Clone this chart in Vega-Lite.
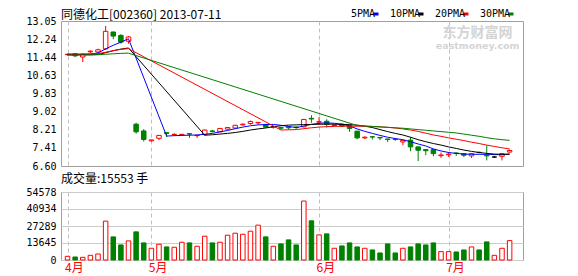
{
  "$schema": "https://vega.github.io/schema/vega-lite/v6.json",
  "padding": {"left": 25, "top": 8, "right": 0, "bottom": 0},
  "background": "white",
  "spacing": 0,
  "datasets": {
    "k": [
      {"i":1,"o":11.55,"h":11.60,"l":11.52,"c":11.57,"v":2950,"5PMA":11.57,"10PMA":11.55,"20PMA":11.58,"30PMA":11.53},
      {"i":2,"o":11.59,"h":11.62,"l":11.44,"c":11.50,"v":2420,"5PMA":11.57,"10PMA":11.55,"20PMA":11.58,"30PMA":11.53},
      {"i":3,"o":11.45,"h":11.60,"l":11.22,"c":11.58,"v":2150,"5PMA":11.56,"10PMA":11.55,"20PMA":11.58,"30PMA":11.54},
      {"i":4,"o":11.68,"h":11.74,"l":11.62,"c":11.71,"v":3760,"5PMA":11.58,"10PMA":11.55,"20PMA":11.59,"30PMA":11.54},
      {"i":5,"o":11.67,"h":11.82,"l":11.62,"c":11.77,"v":4840,"5PMA":11.63,"10PMA":11.56,"20PMA":11.60,"30PMA":11.55},
      {"i":6,"o":11.81,"h":12.83,"l":11.76,"c":12.59,"v":31190,"5PMA":11.81,"10PMA":11.64,"20PMA":11.66,"30PMA":11.57},
      {"i":7,"o":12.56,"h":12.58,"l":12.24,"c":12.38,"v":18550,"5PMA":11.97,"10PMA":11.73,"20PMA":11.73,"30PMA":11.59},
      {"i":8,"o":12.41,"h":12.46,"l":12.04,"c":12.11,"v":12100,"5PMA":12.11,"10PMA":11.80,"20PMA":11.79,"30PMA":11.61},
      {"i":9,"o":12.15,"h":12.38,"l":12.04,"c":12.34,"v":15325,"5PMA":12.26,"10PMA":11.85,"20PMA":11.82,"30PMA":11.62},
      {"i":10,"o":8.46,"h":8.52,"l":8.04,"c":8.12,"v":22585,"5PMA":null,"10PMA":null,"20PMA":null,"30PMA":null},
      {"i":11,"o":8.16,"h":8.24,"l":7.69,"c":7.78,"v":13710,"5PMA":null,"10PMA":null,"20PMA":null,"30PMA":null},
      {"i":12,"o":7.72,"h":7.77,"l":7.68,"c":7.76,"v":9410,"5PMA":null,"10PMA":null,"20PMA":null,"30PMA":null},
      {"i":13,"o":7.83,"h":7.97,"l":7.75,"c":7.96,"v":12640,"5PMA":null,"10PMA":null,"20PMA":null,"30PMA":null},
      {"i":14,"o":8.08,"h":8.09,"l":7.89,"c":8.05,"v":10485,"5PMA":7.93,"10PMA":null,"20PMA":null,"30PMA":null},
      {"i":15,"o":8.00,"h":8.05,"l":7.93,"c":8.01,"v":10215,"5PMA":7.95,"10PMA":null,"20PMA":null,"30PMA":null},
      {"i":16,"o":7.99,"h":8.02,"l":7.93,"c":8.01,"v":14250,"5PMA":7.96,"10PMA":null,"20PMA":null,"30PMA":null},
      {"i":17,"o":8.04,"h":8.05,"l":7.85,"c":8.02,"v":13710,"5PMA":7.97,"10PMA":null,"20PMA":null,"30PMA":null},
      {"i":18,"o":7.95,"h":7.98,"l":7.85,"c":7.97,"v":11020,"5PMA":7.98,"10PMA":null,"20PMA":null,"30PMA":null},
      {"i":19,"o":8.00,"h":8.22,"l":7.94,"c":8.20,"v":19090,"5PMA":8.01,"10PMA":7.97,"20PMA":null,"30PMA":null},
      {"i":20,"o":8.16,"h":8.21,"l":8.10,"c":8.13,"v":13710,"5PMA":8.05,"10PMA":7.99,"20PMA":null,"30PMA":null},
      {"i":21,"o":8.12,"h":8.28,"l":8.10,"c":8.27,"v":14250,"5PMA":8.12,"10PMA":8.02,"20PMA":null,"30PMA":null},
      {"i":22,"o":8.24,"h":8.33,"l":8.20,"c":8.31,"v":19895,"5PMA":8.18,"10PMA":8.05,"20PMA":null,"30PMA":null},
      {"i":23,"o":8.29,"h":8.43,"l":8.27,"c":8.41,"v":21510,"5PMA":8.26,"10PMA":8.09,"20PMA":null,"30PMA":null},
      {"i":24,"o":8.43,"h":8.50,"l":8.39,"c":8.46,"v":20700,"5PMA":8.33,"10PMA":8.14,"20PMA":null,"30PMA":null},
      {"i":25,"o":8.49,"h":8.62,"l":8.44,"c":8.58,"v":23120,"5PMA":8.39,"10PMA":8.20,"20PMA":null,"30PMA":null},
      {"i":26,"o":8.52,"h":8.55,"l":8.43,"c":8.54,"v":27960,"5PMA":8.43,"10PMA":8.25,"20PMA":null,"30PMA":null},
      {"i":27,"o":8.45,"h":8.47,"l":8.32,"c":8.33,"v":18550,"5PMA":8.44,"10PMA":8.29,"20PMA":null,"30PMA":null},
      {"i":28,"o":8.32,"h":8.37,"l":8.26,"c":8.35,"v":11020,"5PMA":8.45,"10PMA":8.35,"20PMA":null,"30PMA":null},
      {"i":29,"o":8.31,"h":8.33,"l":8.22,"c":8.28,"v":12905,"5PMA":8.41,"10PMA":8.39,"20PMA":8.20,"30PMA":null},
      {"i":30,"o":8.34,"h":8.36,"l":8.22,"c":8.30,"v":16130,"5PMA":8.36,"10PMA":8.42,"20PMA":8.21,"30PMA":null},
      {"i":31,"o":8.33,"h":8.37,"l":8.25,"c":8.31,"v":12100,"5PMA":8.31,"10PMA":8.43,"20PMA":8.22,"30PMA":null},
      {"i":32,"o":8.34,"h":8.70,"l":8.32,"c":8.67,"v":47320,"5PMA":8.38,"10PMA":8.44,"20PMA":8.26,"30PMA":null},
      {"i":33,"o":8.72,"h":8.86,"l":8.52,"c":8.69,"v":31460,"5PMA":8.45,"10PMA":8.45,"20PMA":8.30,"30PMA":null},
      {"i":34,"o":8.55,"h":8.78,"l":8.42,"c":8.57,"v":20165,"5PMA":8.50,"10PMA":8.46,"20PMA":8.33,"30PMA":null},
      {"i":35,"o":8.59,"h":8.68,"l":8.31,"c":8.46,"v":20970,"5PMA":8.52,"10PMA":8.46,"20PMA":8.35,"30PMA":null},
      {"i":36,"o":8.40,"h":8.44,"l":8.38,"c":8.42,"v":9410,"5PMA":8.50,"10PMA":8.46,"20PMA":8.36,"30PMA":null},
      {"i":37,"o":8.46,"h":8.48,"l":8.35,"c":8.37,"v":11290,"5PMA":8.46,"10PMA":8.45,"20PMA":8.37,"30PMA":null},
      {"i":38,"o":8.41,"h":8.43,"l":8.12,"c":8.27,"v":13710,"5PMA":8.38,"10PMA":8.44,"20PMA":8.37,"30PMA":null},
      {"i":39,"o":8.15,"h":8.16,"l":7.79,"c":7.85,"v":10485,"5PMA":8.25,"10PMA":8.42,"20PMA":8.37,"30PMA":8.40},
      {"i":40,"o":7.85,"h":7.92,"l":7.80,"c":7.88,"v":9410,"5PMA":8.14,"10PMA":8.37,"20PMA":8.37,"30PMA":8.38},
      {"i":41,"o":7.90,"h":7.91,"l":7.78,"c":7.89,"v":8065,"5PMA":8.05,"10PMA":8.31,"20PMA":8.36,"30PMA":8.36},
      {"i":42,"o":7.87,"h":7.88,"l":7.75,"c":7.85,"v":5645,"5PMA":7.96,"10PMA":8.22,"20PMA":8.34,"30PMA":8.34},
      {"i":43,"o":7.80,"h":7.81,"l":7.67,"c":7.78,"v":12905,"5PMA":7.88,"10PMA":8.13,"20PMA":8.32,"30PMA":8.32},
      {"i":44,"o":7.79,"h":7.84,"l":7.72,"c":7.78,"v":5645,"5PMA":7.82,"10PMA":8.05,"20PMA":8.29,"30PMA":8.30},
      {"i":45,"o":7.67,"h":7.77,"l":7.52,"c":7.74,"v":9410,"5PMA":7.77,"10PMA":7.98,"20PMA":8.25,"30PMA":8.28},
      {"i":46,"o":7.75,"h":7.89,"l":7.26,"c":7.45,"v":10485,"5PMA":7.68,"10PMA":7.88,"20PMA":8.20,"30PMA":8.25},
      {"i":47,"o":7.45,"h":7.47,"l":6.82,"c":7.30,"v":12905,"5PMA":7.58,"10PMA":7.77,"20PMA":8.14,"30PMA":8.22},
      {"i":48,"o":7.33,"h":7.35,"l":7.08,"c":7.28,"v":12100,"5PMA":7.49,"10PMA":7.68,"20PMA":8.06,"30PMA":8.19},
      {"i":49,"o":7.33,"h":7.35,"l":7.03,"c":7.15,"v":13710,"5PMA":7.36,"10PMA":7.60,"20PMA":7.98,"30PMA":8.16},
      {"i":50,"o":7.06,"h":7.20,"l":6.96,"c":7.09,"v":6720,"5PMA":7.27,"10PMA":7.53,"20PMA":7.92,"30PMA":8.13},
      {"i":51,"o":7.10,"h":7.22,"l":7.00,"c":7.13,"v":6720,"5PMA":7.20,"10PMA":7.45,"20PMA":7.85,"30PMA":8.10},
      {"i":52,"o":7.18,"h":7.20,"l":7.05,"c":7.16,"v":6450,"5PMA":7.16,"10PMA":7.38,"20PMA":7.79,"30PMA":8.07},
      {"i":53,"o":7.15,"h":7.16,"l":6.99,"c":7.08,"v":8065,"5PMA":7.13,"10PMA":7.31,"20PMA":7.73,"30PMA":8.02},
      {"i":54,"o":7.05,"h":7.17,"l":6.96,"c":7.15,"v":10485,"5PMA":7.12,"10PMA":7.25,"20PMA":7.66,"30PMA":7.97},
      {"i":55,"o":7.21,"h":7.24,"l":7.16,"c":7.20,"v":8065,"5PMA":7.12,"10PMA":7.20,"20PMA":7.60,"30PMA":7.92},
      {"i":56,"o":7.08,"h":7.52,"l":6.85,"c":7.05,"v":14520,"5PMA":7.12,"10PMA":7.16,"20PMA":7.53,"30PMA":7.86},
      {"i":57,"o":7.00,"h":7.05,"l":6.96,"c":7.00,"v":3760,"5PMA":7.11,"10PMA":7.13,"20PMA":7.47,"30PMA":7.81},
      {"i":58,"o":7.03,"h":7.16,"l":6.85,"c":7.15,"v":9410,"5PMA":7.10,"10PMA":7.12,"20PMA":7.41,"30PMA":7.77},
      {"i":59,"o":7.22,"h":7.33,"l":7.20,"c":7.29,"v":15553,"5PMA":7.14,"10PMA":7.12,"20PMA":7.36,"30PMA":7.74}
    ]
  },
  "config": {
    "view": {"stroke": "#a0a0a0", "strokeWidth": 1},
    "axis": {"labelFont": "DejaVu Sans Mono", "labelFontSize": 10, "labelColor": "#000000", "ticks": false, "domain": false, "title": null, "gridColor": "#cccccc", "gridWidth": 1, "labelOverlap": false},
    "axisX": {"gridDash": [4, 3], "gridColor": "#c0c0c0"},
    "title": {"font": "Noto Sans CJK SC", "fontSize": 12, "fontWeight": "normal", "anchor": "start", "frame": "group", "color": "#000000"}
  },
  "vconcat": [
    {
      "width": 462,
      "height": 145,
      "title": {"text": "同德化工[002360] 2013-07-11", "offset": -6},
      "data": {"name": "k"},
      "layer": [
        {
          "data": {"values": [{"t": "东方财富网"}]},
          "mark": {"type": "text", "font": "Noto Sans CJK SC", "fontSize": 14, "fontWeight": "bold", "color": "#d4d4d4"},
          "encoding": {
            "x": {"datum": 54.8, "type": "quantitative"},
            "y": {"datum": 12.52, "type": "quantitative"},
            "text": {"field": "t"}
          }
        },
        {
          "data": {"values": [{"t": "eastmoney.com"}]},
          "mark": {"type": "text", "font": "DejaVu Sans", "fontSize": 9.5, "fontWeight": "bold", "color": "#d4d4d4"},
          "encoding": {
            "x": {"datum": 54.8, "type": "quantitative"},
            "y": {"datum": 11.94, "type": "quantitative"},
            "text": {"field": "t"}
          }
        },
        {
          "mark": {"type": "rule", "strokeWidth": 1},
          "encoding": {
            "x": {"field": "i", "type": "quantitative", "scale": {"domain": [0.8, 60.1], "nice": false, "zero": false}, "axis": {"values": [1, 12, 34, 51], "tickCount": 10, "labels": false, "grid": true}},
            "y": {"field": "l", "type": "quantitative", "scale": {"domain": [6.6, 13.05], "nice": false, "zero": false}, "axis": {"values": [6.60, 7.41, 8.21, 9.02, 9.83, 10.63, 11.44, 12.24, 13.05], "tickCount": 20, "format": ".2f", "labelPadding": 5, "labelOverlap": false, "labelBound": false, "gridColor": {"condition": {"test": "datum.value === 9.83", "value": "#a0a0a0"}, "value": "#cccccc"}}},
            "y2": {"field": "h"},
            "stroke": {"condition": [{"test": "datum.c > datum.o", "value": "#ff0000"}, {"test": "datum.c < datum.o", "value": "#008000"}], "value": "#000000"}
          }
        },
        {
          "mark": {"type": "bar", "size": 4.5, "strokeWidth": 1},
          "encoding": {
            "x": {"field": "i", "type": "quantitative"},
            "y": {"field": "o", "type": "quantitative"},
            "y2": {"field": "c"},
            "fill": {"condition": [{"test": "datum.c > datum.o", "value": "#ffffff"}, {"test": "datum.c < datum.o", "value": "#008000"}], "value": "#000000"},
            "stroke": {"condition": [{"test": "datum.c > datum.o", "value": "#ff0000"}, {"test": "datum.c < datum.o", "value": "#008000"}], "value": "#000000"}
          }
        },
        {
          "transform": [
            {"fold": ["5PMA", "10PMA", "20PMA", "30PMA"], "as": ["ma", "val"]},
            {"filter": "isValid(datum.val)"}
          ],
          "mark": {"type": "line", "strokeWidth": 1},
          "encoding": {
            "x": {"field": "i", "type": "quantitative"},
            "y": {"field": "val", "type": "quantitative"},
            "color": {
              "field": "ma", "type": "nominal",
              "scale": {"domain": ["5PMA", "10PMA", "20PMA", "30PMA"], "range": ["#0000ff", "#000000", "#ff0000", "#008000"]},
              "legend": {"orient": "none", "legendX": 310, "legendY": -12, "direction": "horizontal", "title": null, "symbolType": "stroke", "symbolSize": 25, "symbolStrokeWidth": 3, "labelFont": "DejaVu Sans Mono", "labelFontSize": 10, "labelColor": "#000000", "labelAlign": "right", "labelOffset": -6, "columnPadding": 4, "padding": 0}
            }
          }
        }
      ]
    },
    {
      "width": 462,
      "height": 68,
      "title": {"text": "成交量:15553 手", "offset": 1},
      "data": {"name": "k"},
      "mark": {"type": "bar", "size": 4.5, "strokeWidth": 1},
      "encoding": {
        "x": {"field": "i", "type": "quantitative", "scale": {"domain": [0.8, 60.1], "nice": false, "zero": false}, "axis": {"values": [1, 12, 34, 51], "tickCount": 10, "grid": true, "labelExpr": "datum.value == 1 ? '4月' : datum.value == 12 ? '5月' : datum.value == 34 ? '6月' : '7月'", "labelFont": "Noto Sans CJK SC", "labelFontSize": 12, "labelColor": "#ff0000", "labelAlign": "left", "labelOffset": -3, "labelPadding": 2}},
        "y": {"field": "v", "type": "quantitative", "scale": {"domain": [0, 54578], "nice": false}, "axis": {"values": [0, 13645, 27289, 40934, 54578], "tickCount": 10, "format": "d", "labelPadding": 5, "labelOverlap": false}},
        "fill": {"condition": {"test": "datum.c >= datum.o", "value": "#ffffff"}, "value": "#008000"},
        "stroke": {"condition": {"test": "datum.c >= datum.o", "value": "#ff0000"}, "value": "#008000"}
      }
    }
  ]
}
